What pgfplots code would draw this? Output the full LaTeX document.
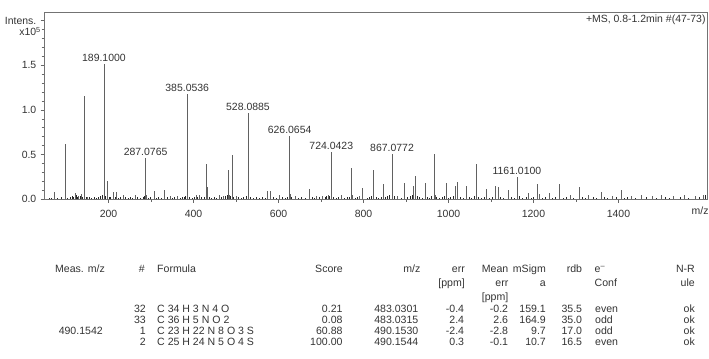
\documentclass[border=0pt]{standalone}
\usepackage{fontspec}
\setmainfont{Liberation Sans}
\usepackage{pgfplots}
\pgfplotsset{compat=1.18}
\usepackage{pgfplotstable}

\pgfplotstableread{
mz int
73.5 0.075
97.8 0.615
121 0.07
130 0.03
136 0.06
143 1.15
150 0.02
189.1 1.52
190.1 0.06
196 0.20
211 0.08
219 0.08
235 0.05
262 0.05
287.08 0.46
288.08 0.05
307 0.09
332 0.10
345 0.03
362 0.03
385.05 1.18
386.05 0.05
406 0.04
414 0.04
431 0.39
432.5 0.14
461 0.04
470 0.03
483.03 0.33
484 0.05
490.15 0.49
491.15 0.14
500 0.03
528.09 0.96
529.09 0.08
573 0.09
581 0.09
603 0.05
626.07 0.705
627.07 0.06
640 0.03
672 0.11
690 0.03
703 0.03
717 0.05
724.04 0.53
725.04 0.06
748 0.05
771.6 0.35
772.6 0.04
790 0.03
797.6 0.12
823 0.325
847 0.165
867.08 0.51
868 0.06
880 0.03
897 0.18
918 0.15
922 0.26
945 0.18
967 0.51
968 0.05
994 0.175
1016 0.145
1022 0.19
1043 0.145
1065 0.39
1066 0.05
1090 0.11
1110 0.145
1117 0.13
1140 0.10
1161.01 0.25
1189 0.07
1208 0.165
1213 0.06
1238 0.07
1262 0.165
1287 0.05
1308 0.14
1330 0.04
1360 0.08
1385 0.03
1406 0.10
1430 0.03
1455 0.04
1480 0.03
1500 0.05
1530 0.03
1555 0.04
1580 0.03
1600 0.04
}\peaks

\pgfplotstableread{
mz int
60 0.01
66 0.015
80 0.01
88 0.02
104 0.015
110 0.02
115 0.03
118 0.02
124 0.04
127 0.02
133 0.03
139 0.02
147 0.025
155 0.02
160 0.015
166 0.02
171 0.015
177 0.02
181 0.03
186 0.04
193 0.03
201 0.02
205 0.025
215 0.02
224 0.015
229 0.02
240 0.02
246 0.015
251 0.02
257 0.015
268 0.02
274 0.015
281 0.02
284 0.03
293 0.015
299 0.02
312 0.015
318 0.02
325 0.015
338 0.02
351 0.015
356 0.02
368 0.015
373 0.02
379 0.02
382 0.03
391 0.02
397 0.015
402 0.02
410 0.025
419 0.02
425 0.02
437 0.02
443 0.015
449 0.02
455 0.015
466 0.02
476 0.03
480 0.04
487 0.03
495 0.02
506 0.02
512 0.015
518 0.02
524 0.03
533 0.02
540 0.015
547 0.02
556 0.015
563 0.02
568 0.015
589 0.02
595 0.015
610 0.02
617 0.015
622 0.02
631 0.02
648 0.015
655 0.02
663 0.015
680 0.02
685 0.015
696 0.02
710 0.02
713 0.03
720 0.03
729 0.02
736 0.015
742 0.02
755 0.015
762 0.02
768 0.02
780 0.015
785 0.02
809 0.015
815 0.02
819 0.03
830 0.02
836 0.015
841 0.02
852 0.02
857 0.03
862 0.04
872 0.03
889 0.015
904 0.02
910 0.03
914 0.04
926 0.03
932 0.02
938 0.015
950 0.02
956 0.015
961 0.03
972 0.02
979 0.015
985 0.02
990 0.03
1000 0.015
1005 0.02
1011 0.03
1028 0.02
1034 0.015
1049 0.02
1055 0.015
1060 0.03
1071 0.02
1078 0.015
1084 0.02
1096 0.015
1103 0.02
1123 0.02
1130 0.015
1147 0.02
1154 0.015
1166 0.03
1175 0.015
1183 0.02
1195 0.015
1201 0.02
1220 0.015
1228 0.02
1245 0.015
1252 0.02
1270 0.015
1278 0.02
1295 0.015
1315 0.02
1322 0.015
1340 0.02
1348 0.015
1368 0.02
1375 0.015
1395 0.02
1414 0.015
1422 0.02
1440 0.015
1465 0.02
1490 0.015
1510 0.02
1520 0.015
1545 0.02
1565 0.015
1590 0.02
1605 0.05
}\noise

\pgfplotstableread{
mz int label
189.1 1.52 189.1000
287.08 0.46 287.0765
385.05 1.18 385.0536
528.09 0.96 528.0885
626.07 0.705 626.0654
724.04 0.53 724.0423
867.08 0.51 867.0772
1161.01 0.25 1161.0100
}\labels

\newcommand\specfont{\fontsize{10.5}{12}\selectfont}
\newcommand\tabfont{\fontsize{10.6}{12}\selectfont}

\begin{document}
\begin{tikzpicture}[x=1bp,y=1bp]
\useasboundingbox (0,0) rectangle (709,358);
\begin{axis}[
  at={(44bp,159bp)}, anchor=south west,
  scale only axis, width=663.7bp, height=186.3bp,
  xmin=48, xmax=1610, ymin=0, ymax=2.09,
  axis line style={black!55, line width=0.6bp},
  tick pos=left, tick align=outside,
  xtick={200,400,...,1400},
  minor x tick num=1,
  ytick={0,0.5,1,1.5,2},
  yticklabels={0.0,0.5,1.0,1.5,Intens.},
  minor y tick num=4,
  major tick length=3.5bp, minor tick length=2.5bp,
  tick style={black!60, line width=0.5bp},
  /pgf/number format/1000 sep={},
  /pgf/number format/assume math mode=true,
  xticklabel style={font=\specfont, text=black!80, anchor=base, inner sep=0pt, yshift=-15bp},
  yticklabel style={font=\specfont, text=black!80, anchor=base east, inner sep=0pt, xshift=-4bp, yshift=-3.7bp},
  clip mode=individual,
]
\addplot[ycomb, black!85, line width=0.9bp, mark=none] table[x=mz, y=int] {\noise};
\addplot[ycomb, black!62, line width=0.75bp, mark=none] table[x=mz, y=int] {\peaks};
\addplot[draw=none, mark=none, nodes near coords, point meta=explicit symbolic,
  every node near coord/.style={anchor=base, inner sep=0pt, yshift=2.5bp, font=\specfont, text=black!80}]
  table[x=mz, y=int, meta=label] {\labels};
\node[anchor=base east, inner sep=0pt, font=\specfont, text=black!80] at (rel axis cs:0,0.875) [xshift=-3bp] {x10\textsuperscript{5}};
\node[anchor=base east, inner sep=0pt, font=\specfont, text=black!80] at (rel axis cs:1,1) [xshift=-2bp, yshift=-10bp] {+MS, 0.8-1.2min \#(47-73)};
\node[anchor=base east, inner sep=0pt, font=\specfont, text=black!80] at (rel axis cs:1,0) [xshift=1bp, yshift=-15bp] {m/z};
\end{axis}

\begin{scope}[every node/.style={inner sep=0pt, font=\tabfont, text=black!80}]
% header
\node[anchor=base east] at (105,86) {Meas. m/z};
\node[anchor=base east] at (145,86) {\#};
\node[anchor=base west] at (157,86) {Formula};
\node[anchor=base east] at (343,86) {Score};
\node[anchor=base east] at (420.5,86) {m/z};
\node[anchor=base east] at (465,86) {err};
\node[anchor=base east] at (465,72) {[ppm]};
\node[anchor=base east] at (508.5,86) {Mean};
\node[anchor=base east] at (508.5,72) {err};
\node[anchor=base east] at (508.5,58) {[ppm]};
\node[anchor=base east] at (546,86) {mSigm};
\node[anchor=base east] at (546,72) {a};
\node[anchor=base east] at (582.3,86) {rdb};
\node[anchor=base west] at (594.5,86) {e\textsuperscript{–}};
\node[anchor=base west] at (594.5,72) {Conf};
\node[anchor=base east] at (695,86) {N-R};
\node[anchor=base east] at (695,72) {ule};
% row 1
\node[anchor=base east] at (146,45.6) {32};
\node[anchor=base west] at (157,45.6) {C 34 H 3 N 4 O};
\node[anchor=base east] at (342.7,45.6) {0.21};
\node[anchor=base east] at (418.5,45.6) {483.0301};
\node[anchor=base east] at (464.3,45.6) {-0.4};
\node[anchor=base east] at (508.3,45.6) {-0.2};
\node[anchor=base east] at (546,45.6) {159.1};
\node[anchor=base east] at (582.3,45.6) {35.5};
\node[anchor=base west] at (595,45.6) {even};
\node[anchor=base east] at (695,45.6) {ok};
% row 2
\node[anchor=base east] at (146,34.5) {33};
\node[anchor=base west] at (157,34.5) {C 36 H 5 N O 2};
\node[anchor=base east] at (342.7,34.5) {0.08};
\node[anchor=base east] at (418.5,34.5) {483.0315};
\node[anchor=base east] at (464.3,34.5) {2.4};
\node[anchor=base east] at (508.3,34.5) {2.6};
\node[anchor=base east] at (546,34.5) {164.9};
\node[anchor=base east] at (582.3,34.5) {35.0};
\node[anchor=base west] at (595,34.5) {odd};
\node[anchor=base east] at (695,34.5) {ok};
% row 3
\node[anchor=base east] at (103,23.4) {490.1542};
\node[anchor=base east] at (146,23.4) {1};
\node[anchor=base west] at (157,23.4) {C 23 H 22 N 8 O 3 S};
\node[anchor=base east] at (342.7,23.4) {60.88};
\node[anchor=base east] at (418.5,23.4) {490.1530};
\node[anchor=base east] at (464.3,23.4) {-2.4};
\node[anchor=base east] at (508.3,23.4) {-2.8};
\node[anchor=base east] at (546,23.4) {9.7};
\node[anchor=base east] at (582.3,23.4) {17.0};
\node[anchor=base west] at (595,23.4) {odd};
\node[anchor=base east] at (695,23.4) {ok};
% row 4
\node[anchor=base east] at (146,12.3) {2};
\node[anchor=base west] at (157,12.3) {C 25 H 24 N 5 O 4 S};
\node[anchor=base east] at (342.7,12.3) {100.00};
\node[anchor=base east] at (418.5,12.3) {490.1544};
\node[anchor=base east] at (464.3,12.3) {0.3};
\node[anchor=base east] at (508.3,12.3) {-0.1};
\node[anchor=base east] at (546,12.3) {10.7};
\node[anchor=base east] at (582.3,12.3) {16.5};
\node[anchor=base west] at (595,12.3) {even};
\node[anchor=base east] at (695,12.3) {ok};
\end{scope}
\end{tikzpicture}
\end{document}
